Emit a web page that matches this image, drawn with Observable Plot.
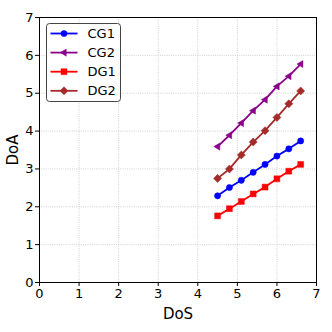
<!DOCTYPE html>
<html>
<head>
<meta charset="utf-8">
<script src="https://cdn.jsdelivr.net/npm/d3@7"></script>
<script src="https://cdn.jsdelivr.net/npm/@observablehq/plot@0.6"></script>
<style>
  html, body { margin: 0; padding: 0; background: #fff; }
  #wrap { position: relative; width: 332px; height: 332px; font-family: "DejaVu Sans", sans-serif; }
  #legend { position: absolute; left: 46px; top: 23px; }
</style>
</head>
<body>
<div id="wrap"></div>
<script>
const dos = [4.5, 4.8, 5.1, 5.4, 5.7, 6.0, 6.3, 6.6];
const seriesNames = ["CG1", "CG2", "DG1", "DG2"];
const cg1 = [2.29, 2.51, 2.70, 2.91, 3.12, 3.34, 3.53, 3.74];
const cg2 = [3.59, 3.89, 4.21, 4.54, 4.83, 5.18, 5.45, 5.77];
const dg1 = [1.76, 1.95, 2.14, 2.34, 2.52, 2.74, 2.94, 3.12];
const dg2 = [2.75, 3.00, 3.37, 3.71, 4.01, 4.36, 4.72, 5.06];
const ticks = [0, 1, 2, 3, 4, 5, 6, 7];

const colors = {CG1: "#0000ff", CG2: "#8b008b", DG1: "#ff0000", DG2: "#a52a2a"};

// custom symbols (matplotlib-like)
const triLeft = {draw(ctx, size) {
  const r = Math.sqrt(size / Math.PI) * 1.2;
  ctx.moveTo(-r, 0); ctx.lineTo(r * 0.6, -r * 0.95); ctx.lineTo(r * 0.6, r * 0.95); ctx.closePath();
}};
const diamond = {draw(ctx, size) {
  const r = Math.sqrt(size / Math.PI) * 1.3;
  ctx.moveTo(0, -r); ctx.lineTo(r, 0); ctx.lineTo(0, r); ctx.lineTo(-r, 0); ctx.closePath();
}};
const square = {draw(ctx, size) {
  const r = Math.sqrt(size / Math.PI) * 0.95;
  ctx.rect(-r, -r, 2 * r, 2 * r);
}};
const symbols = {CG1: "circle", CG2: triLeft, DG1: square, DG2: diamond};

const valuesBy = {CG1: cg1, CG2: cg2, DG1: dg1, DG2: dg2};
const rows = seriesNames.flatMap(s => dos.map((x, i) => ({series: s, x, y: valuesBy[s][i]})));

const marks = [
  Plot.gridX(ticks, {stroke: "#c4c4c4", strokeOpacity: 1, strokeDasharray: "1,1.2", strokeWidth: 0.8}),
  Plot.gridY(ticks, {stroke: "#c4c4c4", strokeOpacity: 1, strokeDasharray: "1,1.2", strokeWidth: 0.8}),
  Plot.axisX(ticks, {tickSize: 4, tickPadding: 2, fontSize: 13, label: "DoS", labelAnchor: "center", labelArrow: "none", labelOffset: 36, tickFormat: d => d}),
  Plot.axisY(ticks, {tickSize: 4, tickPadding: 2, fontSize: 13, label: "DoA", labelAnchor: "center", labelArrow: "none", labelOffset: 32, tickFormat: d => d}),
];
for (const s of seriesNames) {
  const d = rows.filter(r => r.series === s);
  marks.push(Plot.line(d, {x: "x", y: "y", stroke: colors[s], strokeWidth: 1.8}));
  marks.push(Plot.dot(d, {x: "x", y: "y", fill: colors[s], stroke: colors[s], strokeWidth: 0.5, symbol: () => symbols[s], r: 3.1}));
}
marks.push(Plot.frame({stroke: "black", strokeWidth: 1}));

const chart = Plot.plot({
  width: 332, height: 332,
  marginLeft: 39, marginRight: 16, marginTop: 17, marginBottom: 50,
  style: {fontFamily: "DejaVu Sans, sans-serif", fontSize: "13px", color: "black", background: "white"},
  x: {domain: [0, 7]},
  y: {domain: [0, 7]},
  symbol: {type: "identity"},
  marks
});
chart.querySelectorAll('[aria-label="x-axis label"] text, [aria-label="y-axis label"] text').forEach(t => t.setAttribute("font-size", "15"));
const wrap = document.getElementById("wrap");
wrap.appendChild(chart);

// Legend
const ns = "http://www.w3.org/2000/svg";
const lg = document.createElementNS(ns, "svg");
lg.setAttribute("id", "legend");
lg.setAttribute("width", 76); lg.setAttribute("height", 80);
const box = document.createElementNS(ns, "rect");
box.setAttribute("x", 0.5); box.setAttribute("y", 0.5); box.setAttribute("width", 74); box.setAttribute("height", 78);
box.setAttribute("rx", 3); box.setAttribute("fill", "white"); box.setAttribute("fill-opacity", 0.8);
box.setAttribute("stroke", "#444"); box.setAttribute("stroke-width", 1);
lg.appendChild(box);
seriesNames.forEach((s, i) => {
  const cy = 10.5 + i * 19.1;
  const ln = document.createElementNS(ns, "line");
  ln.setAttribute("x1", 4.5); ln.setAttribute("x2", 31.5); ln.setAttribute("y1", cy); ln.setAttribute("y2", cy);
  ln.setAttribute("stroke", colors[s]); ln.setAttribute("stroke-width", 1.8);
  lg.appendChild(ln);
  const p = document.createElementNS(ns, "path");
  const sym = symbols[s] === "circle" ? d3.symbolCircle : symbols[s];
  p.setAttribute("d", d3.symbol(sym, 3.1 * 3.1 * Math.PI)());
  p.setAttribute("transform", `translate(18,${cy})`);
  p.setAttribute("fill", colors[s]); p.setAttribute("stroke", colors[s]); p.setAttribute("stroke-width", 0.5);
  lg.appendChild(p);
  const t = document.createElementNS(ns, "text");
  t.setAttribute("x", 41.5); t.setAttribute("y", cy); t.setAttribute("dy", "0.35em");
  t.setAttribute("font-size", 13); t.setAttribute("font-family", "DejaVu Sans, sans-serif");
  t.textContent = s;
  lg.appendChild(t);
});
wrap.appendChild(lg);
</script>
</body>
</html>
